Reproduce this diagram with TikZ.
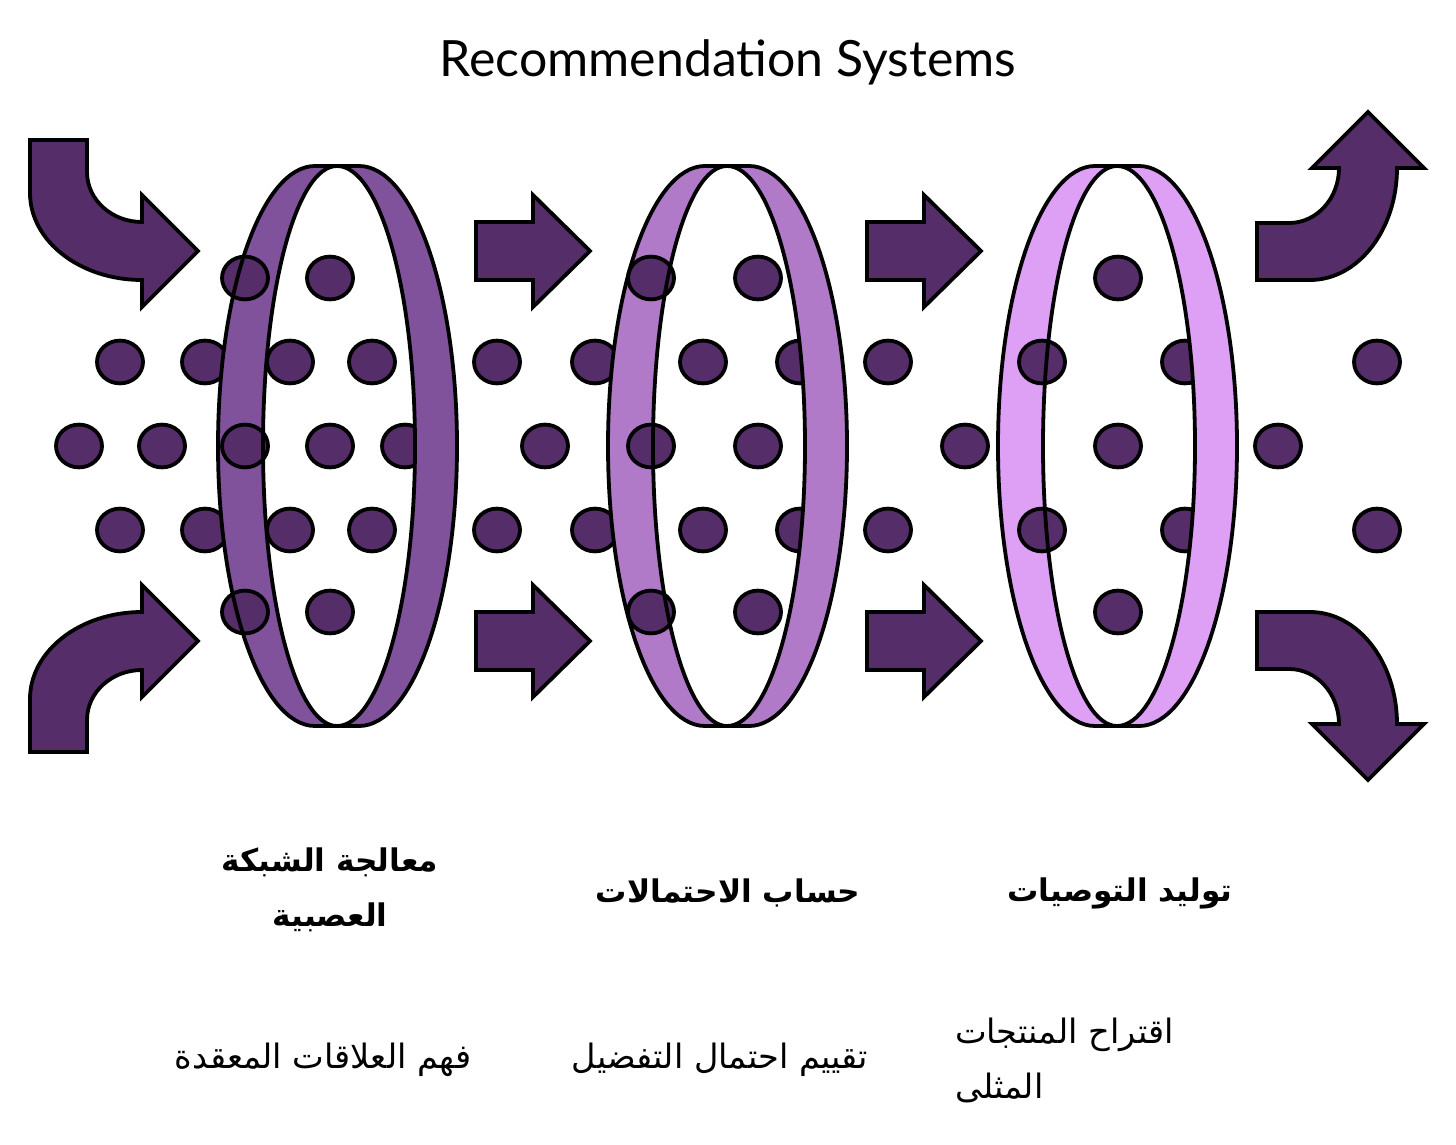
\documentclass[tikz,border=0pt]{standalone}
\usepackage{fontspec}
\setmainfont{Lato}
\newfontfamily\arabicfont[Script=Arabic]{DejaVu Sans}
\TeXXeTstate=1
\usepackage{tikz}
\usetikzlibrary{positioning}
\definecolor{DotPurple}{RGB}{85,45,105}
\definecolor{RingOne}{RGB}{128,82,155}
\definecolor{RingTwo}{RGB}{176,122,200}
\definecolor{RingThree}{RGB}{222,160,245}
\tikzset{
	dot/.style={draw=black,fill=DotPurple,line width=1.9pt},
	shaft/.style={draw=black,fill=DotPurple,line width=1.9pt,line join=miter},
	band/.style={draw=black,line width=1.9pt},
	stage/.style={font=\arabicfont\bfseries\fontsize{15.6}{27.5}\selectfont,align=center},
	note/.style={font=\arabicfont\fontsize{16.8}{27.5}\selectfont,align=center},
}
% the two halves of one ring, #1 = x where they cross
\newcommand{\leftband}[1]{(#1,166) -- (#1-22,166) arc[start angle=90,end angle=270,x radius=48.5pt,y radius=140pt] -- (#1,726) arc[start angle=270,end angle=90,x radius=37pt,y radius=140pt] -- cycle}
\newcommand{\rightband}[1]{(#1,166) -- (#1+22,166) arc[start angle=90,end angle=-90,x radius=49pt,y radius=140pt] -- (#1,726) arc[start angle=-90,end angle=90,x radius=39pt,y radius=140pt] -- cycle}
\newcommand{\blob}{ellipse[x radius=11.5pt,y radius=10.7pt]}

\begin{document}
\begin{tikzpicture}[x=0.5pt,y=-0.5pt]
	\useasboundingbox (0,0) rectangle (1456,1145);
	\node[font=\fontsize{25}{30}\selectfont] (title) at (728,62) {Recommendation Systems};

	% dots behind the rings
	\foreach \x in {120,205,290,372,497,595,703,800,888,1185,1377}
		{\draw[dot] (\x,362) \blob; \draw[dot] (\x,530) \blob;}
	\foreach \x in {79,162,330,405,545,758,965,1118,1278}
		\draw[dot] (\x,446) \blob;
	\foreach \x in {330,758,1118}
		{\draw[dot] (\x,278) \blob; \draw[dot] (\x,612) \blob;}

	% rings
	\foreach \m/\c in {337/RingOne,727/RingTwo,1117/RingThree}
		{\fill[\c] \leftband{\m}; \fill[\c] \rightband{\m};}

	% dots in front
	\foreach \x in {245,651}
		{\draw[dot] (\x,278) \blob; \draw[dot] (\x,446) \blob; \draw[dot] (\x,612) \blob;}
	\draw[dot] (1042,362) \blob;
	\draw[dot] (1042,530) \blob;

	\foreach \m in {337,727,1117}
		{\draw[band] \leftband{\m}; \draw[band] \rightband{\m};}

	% straight arrows
	\foreach \x in {476,867}
		\foreach \y in {251,641}
			\draw[shaft] (\x,\y-29) -- (\x+57,\y-29) -- (\x+57,\y-56) -- (\x+114,\y)
				-- (\x+57,\y+56) -- (\x+57,\y+29) -- (\x,\y+29) -- cycle;

	% bent arrows
	\draw[shaft] (30,140) -- (30,193) .. controls (30,241) and (80,280) .. (142,280)
		-- (142,307) -- (198,251) -- (142,195) -- (142,222)
		.. controls (112,222) and (87,200) .. (87,172) -- (87,140) -- cycle;
	\draw[shaft] (30,752) -- (30,699) .. controls (30,651) and (80,612) .. (142,612)
		-- (142,585) -- (198,641) -- (142,697) -- (142,670)
		.. controls (112,670) and (87,692) .. (87,720) -- (87,752) -- cycle;
	\draw[shaft] (1257,280) -- (1310,280) .. controls (1358,280) and (1397,230) .. (1397,168)
		-- (1424,168) -- (1368,112) -- (1312,168) -- (1339,168)
		.. controls (1339,198) and (1317,223) .. (1289,223) -- (1257,223) -- cycle;
	\draw[shaft] (1257,612) -- (1310,612) .. controls (1358,612) and (1397,662) .. (1397,724)
		-- (1424,724) -- (1368,780) -- (1312,724) -- (1339,724)
		.. controls (1339,694) and (1317,669) .. (1289,669) -- (1257,669) -- cycle;

	% labels
	\node[stage] (stageA) at (330,890) {\beginR معالجة الشبكة\endR\\\beginR العصبية\endR};
	\node[stage] (stageB) at (728,893) {\beginR حساب الاحتمالات\endR};
	\node[stage] (stageC) at (1120,893) {\beginR توليد التوصيات\endR};
	\node[note] (noteA) at (323,1060) {\beginR فهم العلاقات المعقدة\endR};
	\node[note] (noteB) at (720,1060) {\beginR تقييم احتمال التفضيل\endR};
	\node[note,align=left,anchor=west] (noteC) at (948,1060) {\beginR اقتراح المنتجات\endR\\\beginR المثلى\endR};
\end{tikzpicture}
\end{document}
